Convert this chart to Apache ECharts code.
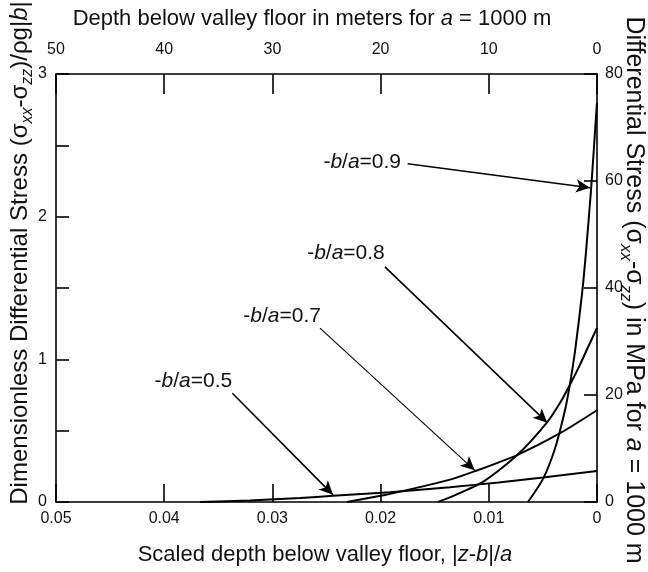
<!DOCTYPE html>
<html><head><meta charset="utf-8">
<script src="https://cdn.jsdelivr.net/npm/echarts@6/dist/echarts.min.js"></script>
<style>html,body{margin:0;padding:0;background:#fff}#c{width:648px;height:572px}</style>
</head><body><div id="c"></div>
<script>
// ---- data ----
const scaledDepthTicks = [0, 0.01, 0.02, 0.03, 0.04, 0.05];
const meterTicks = [0, 10, 20, 30, 40, 50];
const dimlessTicks = [0, 1, 2, 3];
const mpaTicks = [0, 20, 40, 60, 80];

const ba05Depth = [0.0367, 0.0321, 0.02745, 0.0244, 0.01913, 0.01359, 0.0091, 0.00499, 0];
const ba05Stress = [0, 0.0105, 0.028, 0.044, 0.069, 0.104, 0.137, 0.172, 0.218];

const ba07Depth = [0.0231, 0.0191, 0.01359, 0.01128, 0.00739, 0.00342, 0];
const ba07Stress = [0, 0.058, 0.157, 0.216, 0.329, 0.482, 0.643];

const ba08Depth = [0.0147, 0.0136, 0.0105, 0.0074, 0.0046, 0.0033, 0.0025, 0.0016, 0.0008, 0];
const ba08Stress = [0, 0.032, 0.143, 0.327, 0.56, 0.71, 0.822, 0.958, 1.09, 1.22];

const ba09Depth = [0.00638, 0.00499, 0.00388, 0.00296, 0.0025, 0.00203, 0.00139, 0.00102, 0.00055, 0.00018, 0];
const ba09Stress = [0, 0.162, 0.375, 0.643, 0.826, 1.058, 1.455, 1.75, 2.19, 2.6, 2.80];

// annotations: label position, arrow start, arrow tip (data coords)
const annLabels = ['0.5', '0.7', '0.8', '0.9'];
const annText = [[0.0373, 0.847], [0.0291, 1.303], [0.0232, 1.746], [0.0217, 2.385]];
const annFrom = [[0.0337, 0.762], [0.0256, 1.219], [0.0196, 1.648], [0.0175, 2.371]];
const annTo = [[0.0244, 0.050], [0.0113, 0.222], [0.0046, 0.556], [0.00065, 2.203]];
const annWidth = [1.6, 1.1, 1.6, 1.6];

const FONT = '"Liberation Sans", Arial, Helvetica, sans-serif';
const zip = (a, b) => a.map((v, i) => [v, b[i]]);

const chart = echarts.init(document.getElementById('c'), null, {renderer: 'canvas'});

const axisLine = {show: true, onZero: false, lineStyle: {color: '#000', width: 1.6}};
const lbl = {color: '#111', fontSize: 16, fontFamily: FONT};

function curve(name, d, s) {
  return {
    name, type: 'line', xAxisIndex: 0, yAxisIndex: 0,
    data: zip(d, s), showSymbol: false, symbol: 'none',
    smooth: 0.25,
    lineStyle: {color: '#000', width: 2}, silent: true, animation: false, z: 3
  };
}

const richI = {i: {fontStyle: 'italic', fontSize: 21, fontFamily: FONT, color: '#111'}};

const annSeries = {
  type: 'line', xAxisIndex: 0, yAxisIndex: 0, data: [], silent: true, animation: false,
  markLine: {
    silent: true, animation: false, symbol: ['none', 'arrow'], symbolSize: [10, 14],
    label: {show: false},
    data: annFrom.map((f, i) => [
      {coord: f, lineStyle: {color: '#000', width: annWidth[i], type: 'solid'}},
      {coord: annTo[i]}
    ])
  },
  markPoint: {
    silent: true, animation: false, symbol: 'circle', symbolSize: 0,
    data: annText.map((c, i) => ({
      coord: c,
      label: {
        show: true, position: 'inside', color: '#111', fontSize: 21, fontFamily: FONT,
        formatter: '-{i|b}/{i|a}=' + annLabels[i], rich: richI
      }
    }))
  }
};

function makeRich(fs) {
  return {
    sub: {fontSize: Math.round(fs * 0.68), fontStyle: 'italic', fontFamily: FONT, color: '#111', verticalAlign: 'bottom', lineHeight: Math.round(fs * 1.35)},
    i: {fontSize: fs, fontStyle: 'italic', fontFamily: FONT, color: '#111'},
    n: {fontSize: fs, fontFamily: FONT, color: '#111'}
  };
}

function title(text, x, y, rot, fs) {
  return {
    type: 'text', x, y, rotation: rot || 0, silent: true,
    style: {
      text, fontSize: fs, fontFamily: FONT, fill: '#111',
      align: 'center', verticalAlign: 'middle', textAlign: 'center', textVerticalAlign: 'middle',
      rich: makeRich(fs)
    }
  };
}

chart.setOption({
  animation: false,
  backgroundColor: '#fff',
  grid: {left: 56, right: 51, top: 74, bottom: 70, containLabel: false},
  xAxis: [
    {
      type: 'value', position: 'bottom', min: 0, max: 0.05, interval: 0.01, inverse: true,
      axisLine, splitLine: {show: false},
      axisTick: {show: true, inside: true, length: 18, lineStyle: {color: '#000', width: 1.6}},
      axisLabel: Object.assign({margin: 9, formatter: v => {
        const k = scaledDepthTicks.findIndex(t => Math.abs(t - v) < 1e-9);
        return k < 0 ? '' : String(scaledDepthTicks[k]);
      }}, lbl)
    },
    {
      type: 'value', position: 'top', min: 0, max: 50, interval: 10, inverse: true,
      axisLine, splitLine: {show: false},
      axisTick: {show: true, inside: true, length: 20, lineStyle: {color: '#000', width: 1.6}},
      axisLabel: Object.assign({margin: 16, formatter: v => {
        const k = meterTicks.indexOf(Math.round(v));
        return k < 0 ? '' : String(meterTicks[k]);
      }}, lbl)
    }
  ],
  yAxis: [
    {
      type: 'value', position: 'left', min: 0, max: 3, interval: 0.5,
      axisLine, splitLine: {show: false},
      axisTick: {show: true, inside: true, length: 13, lineStyle: {color: '#000', width: 1.6}},
      axisLabel: Object.assign({margin: 9, formatter: v => {
        const k = dimlessTicks.findIndex(t => Math.abs(t - v) < 1e-9);
        return k < 0 ? '' : String(dimlessTicks[k]);
      }}, lbl)
    },
    {
      type: 'value', position: 'right', min: 0, max: 80, interval: 20,
      axisLine, splitLine: {show: false},
      axisTick: {show: true, inside: true, length: 13, lineStyle: {color: '#000', width: 1.6}},
      axisLabel: Object.assign({margin: 8, formatter: v => {
        const k = mpaTicks.indexOf(Math.round(v));
        return k < 0 ? '' : String(mpaTicks[k]);
      }}, lbl)
    }
  ],
  series: [
    curve('-b/a=0.5', ba05Depth, ba05Stress),
    curve('-b/a=0.7', ba07Depth, ba07Stress),
    curve('-b/a=0.8', ba08Depth, ba08Stress),
    curve('-b/a=0.9', ba09Depth, ba09Stress),
    annSeries
  ],
  graphic: [
    title('Depth below valley floor in meters for {i|a} = 1000 m', 312, 19, 0, 22),
    title('Scaled depth below valley floor, |{i|z}-{i|b}|/{i|a}', 325, 555, 0, 22),
    title('Dimensionless Differential Stress (σ{sub|xx}-σ{sub|zz})/ρ{n|g}|{i|b}|', 20, 253, Math.PI / 2, 24),
    title('Differential Stress (σ{sub|xx}-σ{sub|zz}) in MPa for {i|a} = 1000 m', 634, 290, -Math.PI / 2, 25)
  ]
});
</script>
</body></html>
